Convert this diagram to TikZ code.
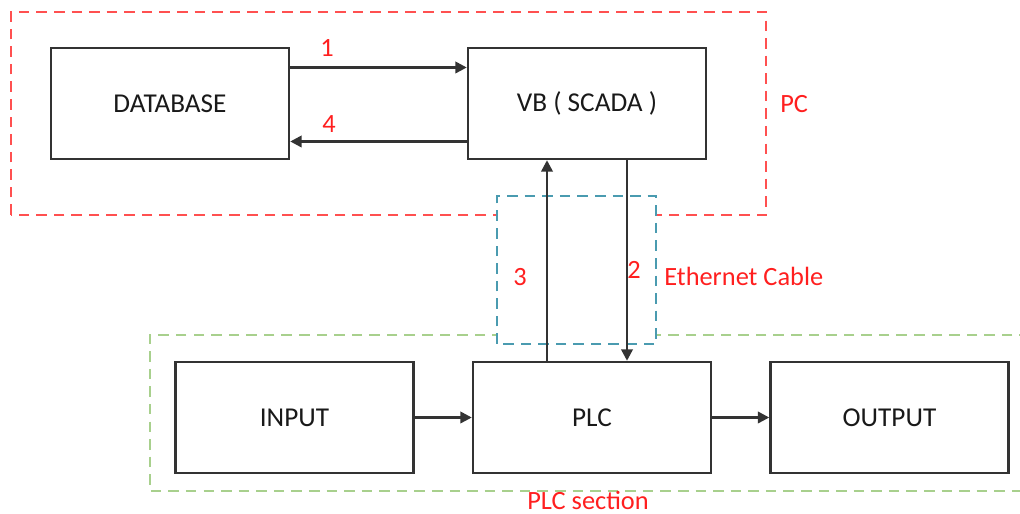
\documentclass[tikz,border=0pt]{standalone}
\usepackage{fontspec}
\setmainfont{Carlito}
\usepackage{xcolor}
\usepackage{tikz}
\usetikzlibrary{positioning, arrows.meta, calc}

\definecolor{pcred}{HTML}{FF5050}
\definecolor{cableblue}{HTML}{4A9BB0}
\definecolor{plcgreen}{HTML}{A8D08D}
\definecolor{labelred}{HTML}{FF1F1F}

\begin{document}
\begin{tikzpicture}[
        >={Triangle[length=6.5pt, width=6.5pt]},
        every node/.style={font=\fontsize{15}{18}\selectfont},
        block/.style={rectangle, draw=black!80, line width=1.4pt, minimum width=4.76cm, minimum height=2.22cm, inner sep=0pt, text=black!90, font=\fontsize{15.5}{18}\selectfont},
        flow/.style={->, line width=1.4pt, draw=black!80},
        zone/.style={line width=1.5pt, dash pattern=on 6pt off 4pt},
        tag/.style={text=labelred, inner sep=0pt}
    ]
        \useasboundingbox (0,0) rectangle (20.4,10.28);

        % dashed groups
        \draw[zone, pcred] (0.22,5.98) rectangle (15.32,10.04);
        \draw[zone, plcgreen] (20.6,3.58) -- (3.0,3.58) -- (3.0,0.46) -- (20.6,0.46);
        \draw[zone, cableblue, fill=white] (9.94,3.40) rectangle (13.12,6.36);

        \node[block] (db)     at (3.40, 8.21)  {DATABASE};
        \node[block] (vb)     at (11.74, 8.21) {VB ( SCADA )};
        \node[block] (input)  at (5.89, 1.93)  {INPUT};
        \node[block] (plc)    at (11.84, 1.93) {PLC};
        \node[block] (output) at (17.79, 1.93) {OUTPUT};

        \draw[flow] ([yshift=0.72cm]db.east)  -- ([yshift=0.72cm]vb.west);
        \draw[flow] ([yshift=-0.76cm]vb.west) -- ([yshift=-0.76cm]db.east);
        \draw[flow] ([xshift=-0.9cm]plc.north) -- ([xshift=-0.9cm]plc.north |- vb.south);
        \draw[flow] ([xshift=0.8cm]vb.south)  -- ([xshift=0.8cm]vb.south |- plc.north);
        \draw[flow] (input) -- (plc);
        \draw[flow] (plc)   -- (output);

        \node[tag] (n1)    at (6.54, 9.32)  {1};
        \node[tag] (n4)    at (6.58, 7.80)  {4};
        \node[tag] (n3)    at (10.40, 4.74) {3};
        \node[tag] (n2)    at (12.68, 4.88) {2};
        \node[tag, anchor=west] (cable) at (13.28, 4.76) {Ethernet Cable};
        \node[tag, anchor=west] (pc)    at (15.60, 8.20) {PC};
        \node[tag] (plcsec) at (11.76, 0.28) {PLC section};
    \end{tikzpicture}
\end{document}
